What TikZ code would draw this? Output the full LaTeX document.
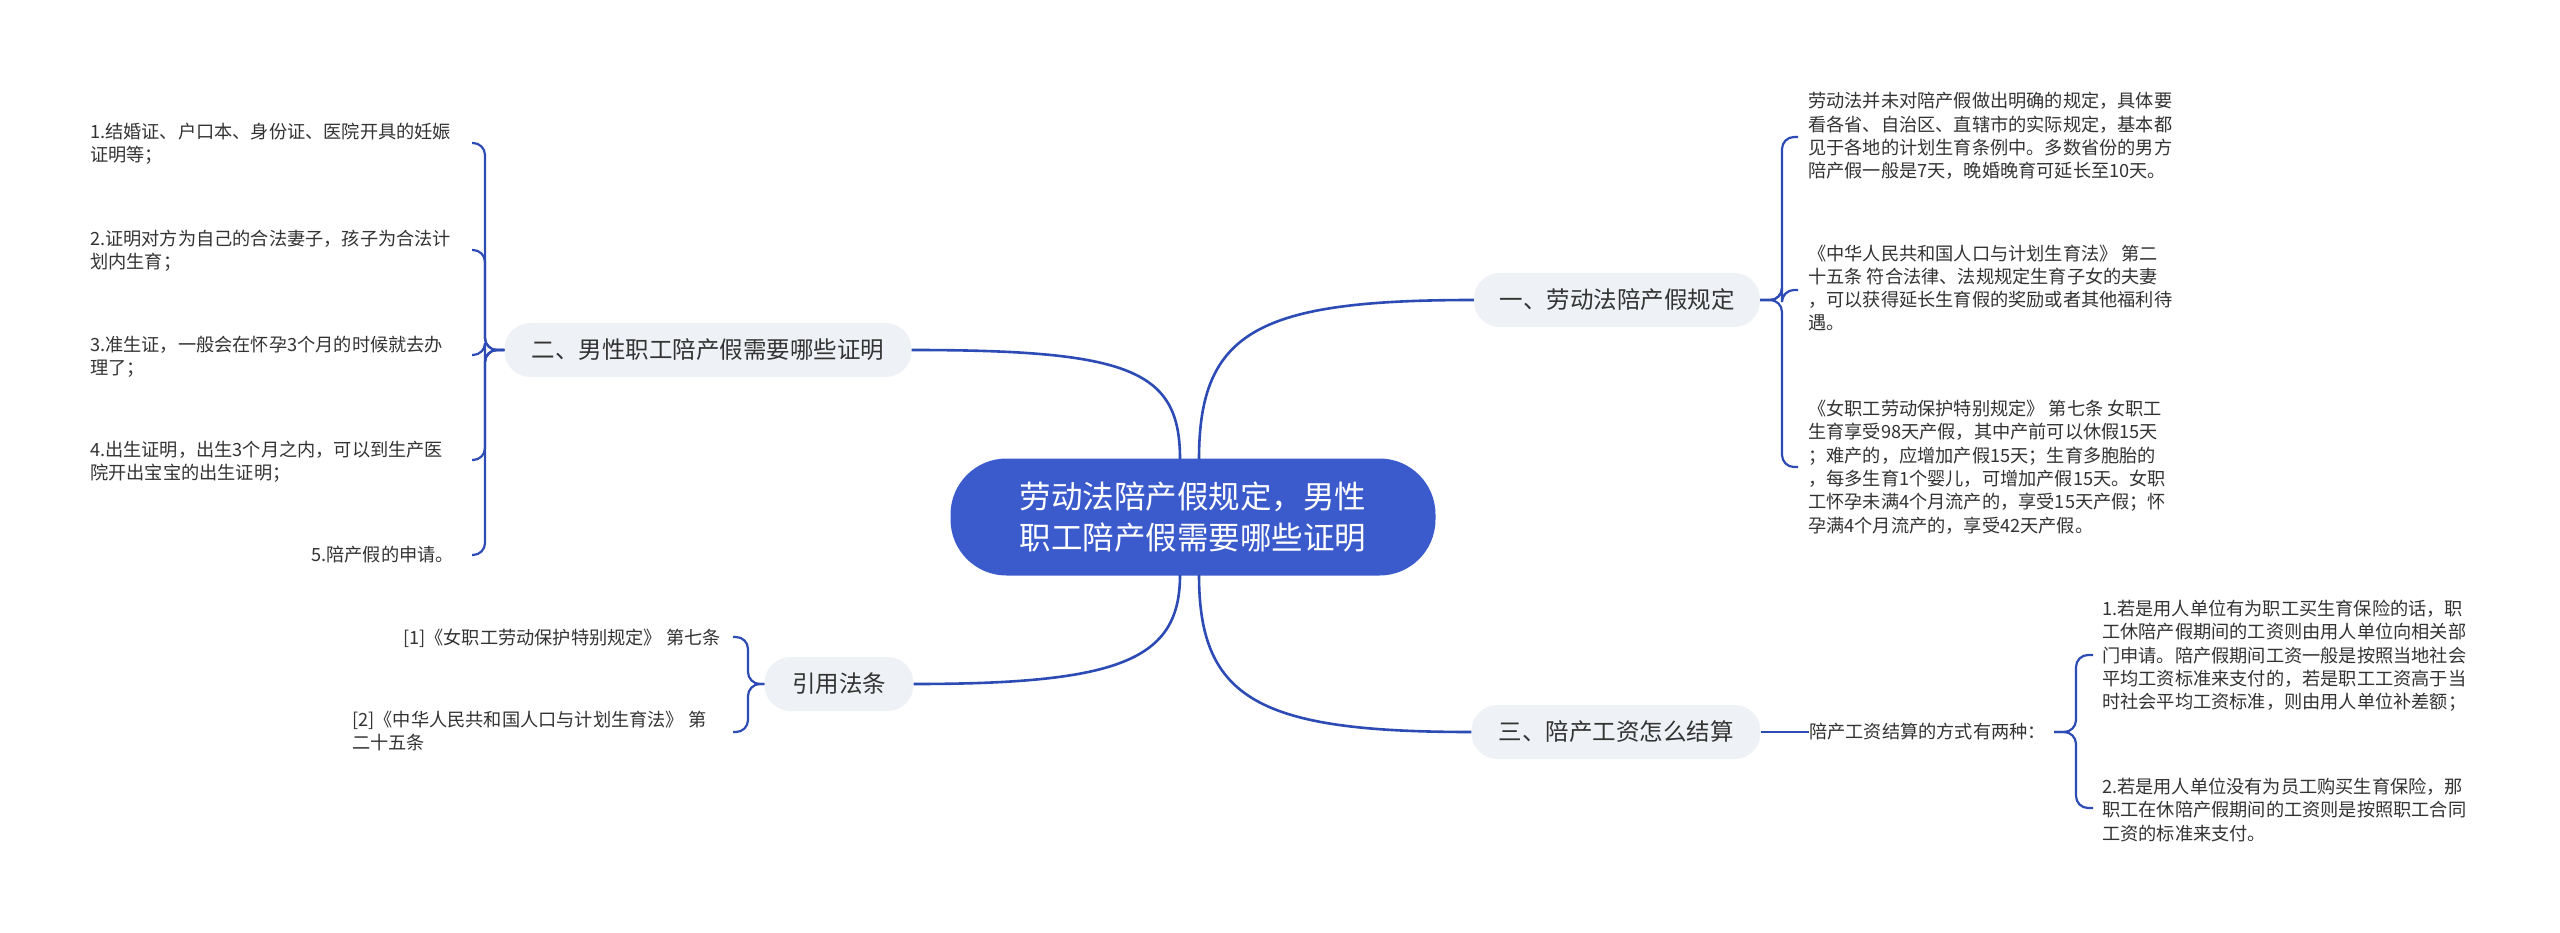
\documentclass[tikz,border=0pt]{standalone}
\usepackage{fontspec}
\setmainfont{Noto Sans CJK SC}
\definecolor{lnc}{RGB}{45,75,180}
\definecolor{cfill}{RGB}{59,91,204}
\definecolor{bfill}{RGB}{238,241,245}
\definecolor{txt}{RGB}{51,51,51}
\begin{document}
\begin{tikzpicture}[x=1pt,y=-1pt,
  conn/.style={draw=lnc,line width=2.6pt},
  brk/.style={draw=lnc,line width=2.2pt,rounded corners=12pt},
  central/.style={fill=cfill,text=white,rounded corners=56pt,minimum width=485pt,minimum height=117pt,align=center,font=\fontsize{31.5}{41}\selectfont,inner sep=0pt},
  branch/.style={fill=bfill,text=txt,rounded corners=26pt,minimum height=54pt,inner sep=0pt,font=\fontsize{23.5}{28}\selectfont},
  leaf/.style={text=txt,inner sep=0pt,align=left,font=\fontsize{18.2}{23.3}\selectfont}]
\useasboundingbox[fill=white] (0,0) rectangle (2560,933);
% central
\node[central] (c) at (1193,517) {劳动法陪产假规定，男性\\职工陪产假需要哪些证明};
% branches
\node[branch,minimum width=286pt] (b1) at (1617,300) {一、劳动法陪产假规定};
\node[branch,minimum width=407pt] (b2) at (708,350) {二、男性职工陪产假需要哪些证明};
\node[branch,minimum width=149pt] (b3) at (839,684) {引用法条};
\node[branch,minimum width=289pt] (b4) at (1616,732) {三、陪产工资怎么结算};
% central connectors
\coordinate (cu1) at (1199,459); \coordinate (cu2) at (1180,459);
\coordinate (cd1) at (1180,575); \coordinate (cd2) at (1199,575);
\draw[conn] (cu1) .. controls (1199,330) and (1260,300) .. (b1.west);
\draw[conn] (cu2) .. controls (1180,370) and (1130,350) .. (b2.east);
\draw[conn] (cd1) .. controls (1180,660) and (1120,684) .. (b3.east);
\draw[conn] (cd2) .. controls (1199,700) and (1260,732) .. (b4.west);
% branch 1 leaves
\node[leaf,anchor=west] (l11) at (1808,136) {劳动法并未对陪产假做出明确的规定，具体要\\看各省、自治区、直辖市的实际规定，基本都\\见于各地的计划生育条例中。多数省份的男方\\陪产假一般是7天，晚婚晚育可延长至10天。};
\node[leaf,anchor=west] (l12) at (1808,288) {《中华人民共和国人口与计划生育法》 第二\\十五条 符合法律、法规规定生育子女的夫妻\\，可以获得延长生育假的奖励或者其他福利待\\遇。};
\node[leaf,anchor=west] (l13) at (1808,467) {《女职工劳动保护特别规定》 第七条 女职工\\生育享受98天产假，其中产前可以休假15天\\；难产的，应增加产假15天；生育多胞胎的\\，每多生育1个婴儿，可增加产假15天。女职\\工怀孕未满4个月流产的，享受15天产假；怀\\孕满4个月流产的，享受42天产假。};
\coordinate (h11) at (1798,137); \coordinate (h12) at (1798,290); \coordinate (h13) at (1798,467);
\draw[brk] (b1.east) -- (1782,300) -- (1782,137) -- (h11);
\draw[brk] (b1.east) -- (1782,300) -- (1782,290) -- (h12);
\draw[brk] (b1.east) -- (1782,300) -- (1782,467) -- (h13);
% branch 2 leaves
\node[leaf,anchor=west] (l21) at (90,144) {1.结婚证、户口本、身份证、医院开具的妊娠\\证明等；};
\node[leaf,anchor=west] (l22) at (90,251) {2.证明对方为自己的合法妻子，孩子为合法计\\划内生育；};
\node[leaf,anchor=west] (l23) at (90,357) {3.准生证，一般会在怀孕3个月的时候就去办\\理了；};
\node[leaf,anchor=west] (l24) at (90,462) {4.出生证明，出生3个月之内，可以到生产医\\院开出宝宝的出生证明；};
\node[leaf,anchor=east] (l25) at (454,555) {5.陪产假的申请。};
\foreach \y [count=\i] in {143,250,355,460,555}{
  \coordinate (h2\i) at (472,\y);
  \draw[brk] (b2.west) -- (485,350) -- (485,\y) -- (h2\i);
}
% branch 3 leaves
\node[leaf,anchor=east] (l31) at (721,638) {[1]《女职工劳动保护特别规定》 第七条};
\node[leaf,anchor=west] (l32) at (352,731) {[2]《中华人民共和国人口与计划生育法》 第\\二十五条};
\coordinate (h31) at (733,637); \coordinate (h32) at (733,732);
\draw[brk] (b3.west) -- (748,684) -- (748,637) -- (h31);
\draw[brk] (b3.west) -- (748,684) -- (748,732) -- (h32);
% branch 4
\node[leaf,anchor=west] (m4) at (1809,732) {陪产工资结算的方式有两种：};
\draw[conn,line width=2.2pt] (b4.east) -- (m4.west);
\node[leaf,anchor=west] (l41) at (2102,656) {1.若是用人单位有为职工买生育保险的话，职\\工休陪产假期间的工资则由用人单位向相关部\\门申请。陪产假期间工资一般是按照当地社会\\平均工资标准来支付的，若是职工工资高于当\\时社会平均工资标准，则由用人单位补差额；};
\node[leaf,anchor=west] (l42) at (2102,810) {2.若是用人单位没有为员工购买生育保险，那\\职工在休陪产假期间的工资则是按照职工合同\\工资的标准来支付。};
\coordinate (h41) at (2093,655); \coordinate (h42) at (2093,808);
\draw[brk] ([xshift=8pt]m4.east) -- (2076,732) -- (2076,655) -- (h41);
\draw[brk] ([xshift=8pt]m4.east) -- (2076,732) -- (2076,808) -- (h42);
\end{tikzpicture}
\end{document}
